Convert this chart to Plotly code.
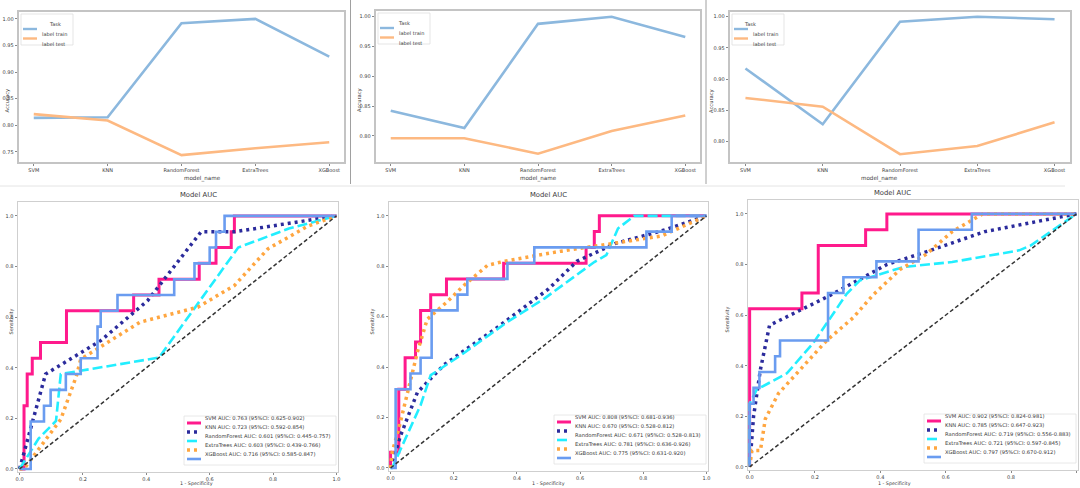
import plotly.graph_objects as go

W, H = 1080, 488

# ---------------- data ----------------
models = ["SVM", "KNN", "RandomForest", "ExtraTrees", "XGBoost"]
task_names = ["label train", "label test"]

acc_train_1 = [0.814, 0.815, 0.992, 1.000, 0.929]
acc_test_1 = [0.821, 0.809, 0.744, 0.757, 0.768]
acc_train_2 = [0.842, 0.813, 0.988, 1.000, 0.966]
acc_test_2 = [0.796, 0.796, 0.770, 0.808, 0.834]
acc_train_3 = [0.917, 0.828, 0.992, 1.000, 0.996]
acc_test_3 = [0.870, 0.856, 0.780, 0.793, 0.831]

acc_ticks_1 = [0.75, 0.80, 0.85, 0.90, 0.95, 1.00]
acc_ticks_2 = [0.80, 0.85, 0.90, 0.95, 1.00]
acc_ticks_3 = [0.80, 0.85, 0.90, 0.95, 1.00]
roc_ticks = [0.0, 0.2, 0.4, 0.6, 0.8, 1.0]
diag = [0, 1]

# ROC panel 1
roc1_fpr = {
    "SVM": [0, 0.014, 0.014, 0.024, 0.024, 0.04, 0.04, 0.066, 0.066, 0.148, 0.148, 0.36, 0.36, 0.44, 0.44,
            0.567, 0.567, 0.62, 0.62, 0.668, 0.668, 0.678, 0.678, 1.0],
    "KNN": [0, 0.082, 0.256, 0.404, 0.573, 0.68, 1.0],
    "RandomForest": [0, 0.06, 0.115, 0.13, 0.44, 0.69, 0.85, 1.0],
    "ExtraTrees": [0, 0.014, 0.13, 0.18, 0.193, 0.38, 0.562, 0.678, 0.784, 0.91, 1.0],
    "XGBoost": [0, 0.035, 0.035, 0.077, 0.077, 0.098, 0.098, 0.146, 0.146, 0.193, 0.193, 0.246, 0.246, 0.256,
                0.256, 0.309, 0.309, 0.488, 0.488, 0.552, 0.552, 0.6, 0.6, 0.62, 0.62, 0.647, 0.647, 1.0],
}
roc1_tpr = {
    "SVM": [0, 0, 0.25, 0.25, 0.375, 0.375, 0.4375, 0.4375, 0.5, 0.5, 0.625, 0.625, 0.6875, 0.6875, 0.75,
            0.75, 0.8125, 0.8125, 0.875, 0.875, 0.9375, 0.9375, 1.0, 1.0],
    "KNN": [0, 0.375, 0.507, 0.665, 0.9375, 0.9375, 1.0],
    "RandomForest": [0, 0.12, 0.19, 0.375, 0.44, 0.875, 0.95, 1.0],
    "ExtraTrees": [0, 0, 0.196, 0.37, 0.434, 0.58, 0.639, 0.725, 0.87, 0.96, 1.0],
    "XGBoost": [0, 0, 0.1875, 0.1875, 0.25, 0.25, 0.3125, 0.3125, 0.375, 0.375, 0.4375, 0.4375, 0.5625, 0.5625,
                0.625, 0.625, 0.6875, 0.6875, 0.75, 0.75, 0.8125, 0.8125, 0.875, 0.875, 0.9375, 0.9375, 1.0, 1.0],
}
auc_1 = ["0.763", "0.723", "0.601", "0.603", "0.716"]
ci_1 = ["0.625-0.902", "0.592-0.854", "0.445-0.757", "0.439-0.766", "0.585-0.847"]

# ROC panel 2
roc2_fpr = {
    "SVM": [0, 0, 0.026, 0.026, 0.046, 0.046, 0.079, 0.079, 0.095, 0.095, 0.127, 0.127, 0.177, 0.177, 0.358,
            0.358, 0.619, 0.619, 0.645, 0.645, 0.661, 0.661, 1.0],
    "KNN": [0, 0.032, 0.085, 0.17, 0.33, 0.5, 0.59, 0.71, 0.857, 1.0],
    "RandomForest": [0, 0.005, 0.095, 0.127, 0.222, 0.37, 0.487, 0.645, 0.683, 0.72, 0.772, 1.0],
    "ExtraTrees": [0, 0.005, 0.026, 0.053, 0.085, 0.116, 0.18, 0.233, 0.307, 0.36, 0.54, 0.70, 0.857, 1.0],
    "XGBoost": [0, 0.016, 0.016, 0.063, 0.063, 0.095, 0.095, 0.13, 0.13, 0.212, 0.212, 0.243, 0.243, 0.37,
                0.37, 0.455, 0.455, 0.81, 0.81, 0.89, 0.89, 1.0],
}
roc2_tpr = {
    "SVM": [0, 0.0625, 0.0625, 0.3125, 0.3125, 0.4375, 0.4375, 0.5, 0.5, 0.625, 0.625, 0.6875, 0.6875, 0.75,
            0.75, 0.8125, 0.8125, 0.875, 0.875, 0.9375, 0.9375, 1.0, 1.0],
    "KNN": [0, 0.13, 0.30, 0.41, 0.55, 0.71, 0.82, 0.89, 0.94, 1.0],
    "RandomForest": [0, 0, 0.249, 0.368, 0.447, 0.579, 0.672, 0.817, 0.844, 0.95, 1.0, 1.0],
    "ExtraTrees": [0, 0.063, 0.156, 0.30, 0.46, 0.59, 0.66, 0.725, 0.804, 0.82, 0.86, 0.89, 0.92, 1.0],
    "XGBoost": [0, 0, 0.3125, 0.3125, 0.375, 0.375, 0.4375, 0.4375, 0.625, 0.625, 0.6875, 0.6875, 0.75, 0.75,
                0.8125, 0.8125, 0.875, 0.875, 0.9375, 0.9375, 1.0, 1.0],
}
auc_2 = ["0.808", "0.670", "0.671", "0.781", "0.775"]
ci_2 = ["0.681-0.936", "0.528-0.812", "0.528-0.813", "0.636-0.926", "0.631-0.920"]

# ROC panel 3
roc3_fpr = {
    "SVM": [0, 0, 0.16, 0.16, 0.21, 0.21, 0.355, 0.355, 0.42, 0.42, 1.0],
    "KNN": [0, 0.012, 0.033, 0.061, 0.165, 0.246, 0.42, 0.54, 0.72, 1.0],
    "RandomForest": [0, 0, 0.022, 0.114, 0.195, 0.297, 0.337, 0.47, 0.62, 0.825, 0.86, 1.0],
    "ExtraTrees": [0, 0.007, 0.033, 0.048, 0.088, 0.165, 0.236, 0.317, 0.378, 0.46, 0.54, 0.62, 0.713, 1.0],
    "XGBoost": [0, 0, 0.012, 0.012, 0.03, 0.03, 0.078, 0.078, 0.093, 0.093, 0.24, 0.24, 0.287, 0.287, 0.388,
                0.388, 0.517, 0.517, 0.68, 0.68, 1.0],
}
roc3_tpr = {
    "SVM": [0, 0.625, 0.625, 0.6875, 0.6875, 0.875, 0.875, 0.9375, 0.9375, 1.0, 1.0],
    "KNN": [0, 0.2, 0.385, 0.56, 0.626, 0.678, 0.80, 0.85, 0.93, 1.0],
    "RandomForest": [0, 0.25, 0.306, 0.37, 0.49, 0.684, 0.737, 0.79, 0.81, 0.856, 0.875, 1.0],
    "ExtraTrees": [0, 0.065, 0.065, 0.19, 0.29, 0.40, 0.50, 0.59, 0.68, 0.78, 0.84, 0.93, 1.0, 1.0],
    "XGBoost": [0, 0.25, 0.25, 0.3125, 0.3125, 0.375, 0.375, 0.4375, 0.4375, 0.5, 0.5, 0.6875, 0.6875, 0.75,
                0.75, 0.8125, 0.8125, 0.9375, 0.9375, 1.0, 1.0],
}
auc_3 = ["0.902", "0.785", "0.719", "0.721", "0.797"]
ci_3 = ["0.824-0.981", "0.647-0.923", "0.556-0.883", "0.597-0.845", "0.670-0.912"]

# ---------------- styles / layout ----------------
FONT = "DejaVu Sans"
TXT = "#3a3a3a"
task_colors = ["#8cb8de", "#fdb982"]
roc_style = {
    "SVM": dict(color="#ff1a8c", width=3, dash="solid"),
    "KNN": dict(color="#2b2b9c", width=3.5, dash="3px,4px"),
    "RandomForest": dict(color="#22eeff", width=2.6, dash="10px,4px"),
    "ExtraTrees": dict(color="#ffa640", width=3.5, dash="3px,4px"),
    "XGBoost": dict(color="#6a9cf0", width=2.6, dash="solid"),
}

# panel boxes in pixels: (left, right, top, bottom)
top_boxes = [(19, 344, 12, 162), (376, 700, 11, 162), (730, 1070, 12, 162)]
bot_boxes = [(18, 338, 202, 472), (389, 708, 202, 471), (748, 1078, 200, 470)]
top_yrange = [[0.731, 1.013], [0.756, 1.0096], [0.7675, 1.0075]]
ytitle_x = [1, 354, 711]
stitle_x = [5, 372, 732]


def px(x):
    return x / W


def py(y):
    return 1 - y / H


fig = go.Figure()
layout = {}
shapes = []
annotations = []

top_data = [(acc_train_1, acc_test_1, acc_ticks_1), (acc_train_2, acc_test_2, acc_ticks_2),
            (acc_train_3, acc_test_3, acc_ticks_3)]

for i, (tr, te, ticks) in enumerate(top_data):
    n = i + 1
    xa = "x" if n == 1 else f"x{n}"
    ya = "y" if n == 1 else f"y{n}"
    l, r, t, b = top_boxes[i]
    for series, name, col in zip([tr, te], task_names, task_colors):
        fig.add_trace(go.Scatter(x=models, y=series, mode="lines", name=name, showlegend=False,
                                 line=dict(color=col, width=2.6), xaxis=xa, yaxis=ya))
    layout["xaxis" if n == 1 else f"xaxis{n}"] = dict(
        domain=[px(l), px(r)], anchor=ya, type="category", range=[-0.2, 4.2],
        showgrid=False, zeroline=False, showline=True, mirror=True, linecolor="#c4c4c4", linewidth=1.6,
        ticks="outside", ticklen=2.5, tickcolor="#888", tickwidth=0.8,
        tickfont=dict(size=5, color=TXT, family=FONT), automargin=False)
    layout["yaxis" if n == 1 else f"yaxis{n}"] = dict(
        domain=[py(b), py(t)], anchor=xa, range=top_yrange[i], tickvals=ticks,
        ticktext=[f"{v:.2f}" for v in ticks],
        showgrid=False, zeroline=False, showline=True, mirror=True, linecolor="#c4c4c4", linewidth=1.6,
        ticks="outside", ticklen=2.5, tickcolor="#888", tickwidth=0.8,
        tickfont=dict(size=5, color=TXT, family=FONT), automargin=False)
    # axis titles
    annotations.append(dict(text="model_name", x=px((l + r) / 2), y=py(178), xref="paper", yref="paper",
                            showarrow=False, font=dict(size=5.6, color=TXT, family=FONT)))
    annotations.append(dict(text="Accuracy", x=px(ytitle_x[i]), y=py((t + b) / 2), xref="paper", yref="paper",
                            showarrow=False, textangle=-90, font=dict(size=5.2, color=TXT, family=FONT)))
    # legend box
    bl, bt = l + 2, t + 2
    bw, bh = 52, 31
    shapes.append(dict(type="rect", xref="paper", yref="paper", x0=px(bl), x1=px(bl + bw), y0=py(bt + bh),
                       y1=py(bt), line=dict(color="#dedede", width=0.8), fillcolor="rgba(255,255,255,0.85)"))
    annotations.append(dict(text="Task", x=px(bl + bw / 2), y=py(bt + 5), xref="paper", yref="paper",
                            showarrow=False, font=dict(size=5, color=TXT, family=FONT)))
    for k, (name, col) in enumerate(zip(task_names, task_colors)):
        yy = bt + 15 + k * 9.5
        shapes.append(dict(type="line", xref="paper", yref="paper", x0=px(bl + 2), x1=px(bl + 16),
                           y0=py(yy), y1=py(yy), line=dict(color=col, width=2.4)))
        annotations.append(dict(text=name, x=px(bl + 19), y=py(yy), xref="paper", yref="paper",
                                xanchor="left", showarrow=False, font=dict(size=5, color=TXT, family=FONT)))

roc_data = [(roc1_fpr, roc1_tpr, auc_1, ci_1), (roc2_fpr, roc2_tpr, auc_2, ci_2),
            (roc3_fpr, roc3_tpr, auc_3, ci_3)]

for i, (fprs, tprs, aucs, cis) in enumerate(roc_data):
    n = i + 4
    xa, ya = f"x{n}", f"y{n}"
    l, r, t, b = bot_boxes[i]
    labels = [f"{m} AUC: {a} (95%CI: {c})" for m, a, c in zip(models, aucs, cis)]
    for m, lab in zip(models, labels):
        fig.add_trace(go.Scatter(x=fprs[m], y=tprs[m], mode="lines", name=lab, showlegend=False,
                                 line=roc_style[m], xaxis=xa, yaxis=ya))
    fig.add_trace(go.Scatter(x=diag, y=diag, mode="lines", showlegend=False,
                             line=dict(color="#333333", width=1.5, dash="4px,2.5px"), xaxis=xa, yaxis=ya))
    layout[f"xaxis{n}"] = dict(
        domain=[px(l), px(r)], anchor=ya, range=[-0.005, 1.005], tickvals=roc_ticks,
        ticktext=[f"{v:.1f}" for v in roc_ticks],
        showgrid=False, zeroline=False, showline=True, mirror=True, linecolor="#cfcfcf", linewidth=1,
        ticks="outside", ticklen=2, tickcolor="#888", tickwidth=0.8,
        tickfont=dict(size=5, color=TXT, family=FONT), automargin=False)
    layout[f"yaxis{n}"] = dict(
        domain=[py(b), py(t)], anchor=xa, range=[-0.012, 1.055], tickvals=roc_ticks,
        ticktext=[f"{v:.1f}" for v in roc_ticks],
        showgrid=False, zeroline=False, showline=True, mirror=True, linecolor="#cfcfcf", linewidth=1,
        ticks="outside", ticklen=2.5, tickcolor="#888", tickwidth=0.8,
        tickfont=dict(size=5, color=TXT, family=FONT), automargin=False)
    annotations.append(dict(text="Model AUC", x=px((l + r) / 2), y=py(t - 1), xref="paper", yref="paper",
                            yanchor="bottom", showarrow=False, font=dict(size=6.8, color=TXT, family=FONT)))
    annotations.append(dict(text="1 - Specificity", x=px((l + r) / 2), y=py(488), xref="paper", yref="paper",
                            yanchor="bottom", showarrow=False, font=dict(size=4.8, color=TXT, family=FONT)))
    annotations.append(dict(text="Sensitivity", x=px(stitle_x[i]), y=py((t + b) / 2), xref="paper",
                            yref="paper", showarrow=False, textangle=-90,
                            font=dict(size=5, color=TXT, family=FONT)))
    # legend
    bw, bh = 152, 49
    br, bb = r - 2, b - 7
    bl, bt = br - bw, bb - bh
    shapes.append(dict(type="rect", xref="paper", yref="paper", x0=px(bl), x1=px(br), y0=py(bb), y1=py(bt),
                       line=dict(color="#e2e2e2", width=0.8), fillcolor="rgba(255,255,255,0.85)"))
    for k, (m, lab) in enumerate(zip(models, labels)):
        yy = bt + 7 + k * 9.0
        st = dict(roc_style[m])
        shapes.append(dict(type="line", xref="paper", yref="paper", x0=px(bl + 3), x1=px(bl + 17),
                           y0=py(yy), y1=py(yy), line=st))
        annotations.append(dict(text=lab, x=px(bl + 19), y=py(yy), xref="paper", yref="paper",
                                xanchor="left", showarrow=False, font=dict(size=5.2, color=TXT, family=FONT)))

# screenshot separators
for sx in [350.5, 706]:
    shapes.append(dict(type="line", xref="paper", yref="paper", x0=px(sx), x1=px(sx), y0=py(0), y1=py(184),
                       line=dict(color="#a0a0a0", width=1)))
shapes.append(dict(type="line", xref="paper", yref="paper", x0=0, x1=px(1065), y0=py(186), y1=py(186),
                   line=dict(color="#e4e4e4", width=1)))

fig.update_layout(width=W, height=H, margin=dict(l=0, r=0, t=0, b=0), paper_bgcolor="white",
                  plot_bgcolor="white", showlegend=False, shapes=shapes, annotations=annotations,
                  font=dict(family=FONT), **layout)

fig.write_html("out.html", config={"displayModeBar": False})
